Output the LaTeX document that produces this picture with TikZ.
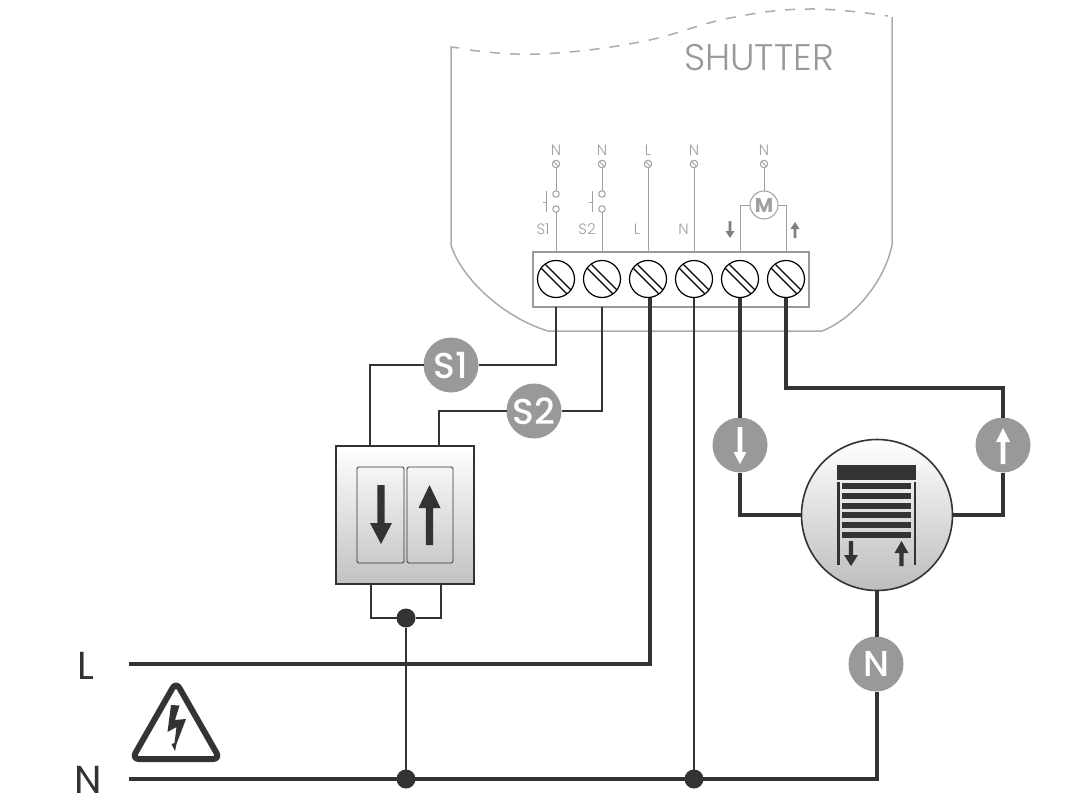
\documentclass[tikz,border=0pt]{standalone}
\usepackage{fontspec}
\setmainfont{Poppins}
\newfontfamily\lightf{Poppins Light}
\newfontfamily\medf{Poppins Medium}
\usetikzlibrary{backgrounds,calc}
\definecolor{dk}{HTML}{333333}
\definecolor{badge}{HTML}{999999}
\definecolor{outl}{HTML}{ABABAB}
\definecolor{lbl}{HTML}{A0A0A0}
\newcommand{\blockarr}[7][dk]{\fill[#1] (#2-#6,#3) -- (#2+#6,#3) -- (#2+#6,#4) -- (#2+#7,#4) -- (#2,#5) -- (#2-#7,#4) -- (#2-#6,#4) -- cycle;}
\tikzset{
  x=1pt,y=-1pt,
  thinw/.style={draw=dk,line width=2pt,line join=miter},
  thickw/.style={draw=dk,line width=4.5pt,line join=miter},
  greyw/.style={draw=lbl,line width=1pt},
  badge/.style={circle,fill=badge,minimum size=55pt,inner sep=0pt,outer sep=0pt,text=white,font=\medf\fontsize{36}{36}\selectfont},
  screw/.style={circle,draw=black,line width=1.2pt,minimum size=37pt,inner sep=0pt,outer sep=0pt,fill=white},
  tiny/.style={circle,draw=lbl,line width=1pt,minimum size=7.5pt,inner sep=0pt,outer sep=0pt},
  contact/.style={circle,draw=lbl,line width=1pt,minimum size=6.5pt,inner sep=0pt,outer sep=0pt},
  smalltxt/.style={text=lbl,inner sep=0pt,font=\lightf\fontsize{15}{15}\selectfont},
  bigtxt/.style={text=dk,inner sep=0pt,font=\fontsize{39}{39}\selectfont},
  rocker/.style={draw=dk,line width=0.9pt,rounded corners=1.5pt,inner sep=0pt,outer sep=0pt,minimum width=47pt,minimum height=96pt},
  junction/.style={circle,fill=dk,minimum size=19pt,inner sep=0pt,outer sep=0pt},
}
\begin{document}
\begin{tikzpicture}
\useasboundingbox (0,0) rectangle (1081,811);
\begin{scope}[on background layer]
\fill[white] (0,0) rectangle (1081,811);
\end{scope}
% module outline
\draw[outl,line width=1.5pt] (459,48) -- (451,47) -- (451,245) .. controls (462,280) and (505,318) .. (548,331) -- (822,331) .. controls (855,318) and (885,280) .. (892,245) -- (892,17);
\draw[outl,line width=1.5pt,dash pattern=on 10pt off 10pt] plot[smooth,tension=0.7] coordinates {(470,50) (540,54) (640,42) (730,18) (810,9) (888,16)};
\node[text=badge,inner sep=0pt,font=\lightf\fontsize{37}{37}\selectfont] (title) at (759,57.5) {SHUTTER};
% terminal block
\node[draw=badge,line width=1.2pt,fill=white,minimum width=276pt,minimum height=55pt,inner sep=0pt,outer sep=0pt] (block) at (671,279.5) {};
\foreach \n/\x in {1/556,2/602,3/648,4/694,5/740,6/786}{
  \node[screw] (s\n) at (\x,279) {};
  \draw[black,line width=1.1pt] ($(s\n)+(-14.5,-10.5)$) -- ($(s\n)+(10.5,14.5)$);
  \draw[black,line width=1.1pt] ($(s\n)+(-10.5,-14.5)$) -- ($(s\n)+(14.5,10.5)$);
}
% upper terminals
\foreach \n/\x/\t in {1/556/N,2/602/N,3/648/L,4/694/N,5/764/N}{
  \node[tiny] (t\n) at (\x,164) {};
  \draw[lbl,line width=0.9pt] (t\n.135) -- (t\n.-45);
  \node[smalltxt] (tl\n) at (\x,150) {\t};
}
\node[contact] (ca1) at (556,194) {};
\node[contact] (cb1) at (556,209) {};
\node[contact] (ca2) at (602,194) {};
\node[contact] (cb2) at (602,209) {};
\draw[greyw] (t1) -- (ca1) (cb1) -- (s1 |- block.north);
\draw[greyw] (t2) -- (ca2) (cb2) -- (s2 |- block.north);
\draw[greyw] (t3) -- (s3 |- block.north);
\draw[greyw] (t4) -- (s4 |- block.north);
\coordinate (p1) at ($(ca1)+(-9.5,3)$);
\coordinate (p2) at ($(ca2)+(-9.5,3)$);
\draw[greyw] ($(p1)+(0,-6)$) -- ($(p1)+(0,15)$) ($(p1)+(-4,5)$) -- ($(p1)+(0,5)$);
\draw[greyw] ($(p2)+(0,-6)$) -- ($(p2)+(0,15)$) ($(p2)+(-4,5)$) -- ($(p2)+(0,5)$);
\node[smalltxt] (l1) at (543,229.5) {S1};
\node[smalltxt] (l2) at (587,229.5) {S2};
\node[smalltxt] (l3) at (637,229.5) {L};
\node[smalltxt] (l4) at (683.5,229.5) {N};
\node[circle,draw=lbl,line width=1pt,minimum size=28pt,inner sep=0pt,outer sep=0pt,text=lbl,font=\bfseries\fontsize{20}{20}\selectfont] (mot) at (764,205) {M};
\draw[greyw] (t5) -- (mot.north);
\draw[greyw] (mot.west) -| (s5 |- block.north);
\draw[greyw] (mot.east) -| (s6 |- block.north);
\blockarr[gray]{730}{221}{231}{238}{1.3}{4.5}
\blockarr[gray]{795}{238}{229}{222}{1.3}{4.5}
% badges
\node[badge] (bs1) at (451,365) {S1};
\node[badge] (bs2) at (534,411) {S2};
\node[badge] (bd) at (740,445) {};
\node[badge] (bu) at (1003,445) {};
\node[badge] (bn) at (876,664) {N};
\blockarr[white]{740}{427}{452}{464}{2.4}{6.5}
\blockarr[white]{1003}{464}{442}{428}{2.4}{7}
% wall switch
\node[draw=dk,line width=2pt,top color=white,bottom color=black!24,minimum width=138pt,minimum height=138pt,inner sep=0pt,outer sep=0pt] (sw) at (405,515) {};
\node[rocker] (rl) at (380.5,515) {};
\node[rocker,minimum width=46pt] (rr) at (430,515) {};
\blockarr{381}{485}{523}{544}{3.7}{11}
\blockarr{429.5}{545}{508}{485}{3.7}{11}
% motor
\node[circle,draw=dk,line width=1.6pt,top color=white,bottom color=black!26,minimum size=151pt,inner sep=0pt,outer sep=0pt] (motor) at (877,515) {};
\fill[dk] (837,465) rectangle (916,480);
\fill[dk] (837,482) rectangle (840,565);
\fill[dk] (913.5,482) rectangle (916,565);
\foreach \y in {486,496,506,515,525,535}{\fill[dk] (842,\y-3) rectangle (911,\y+3);}
\blockarr{851}{541}{555}{566}{2.2}{7}
\blockarr{901.5}{566}{553}{541}{2.2}{7}
% junctions
\node[junction] (j1) at (406,618) {};
\node[junction] (j2) at (406,779) {};
\node[junction] (j3) at (694,779) {};
% mains labels
\coordinate (Lstart) at (129,664);
\coordinate (Nstart) at (129,779);
\coordinate (bend) at (786,388);
\node[bigtxt] (mL) at (85.5,666) {L};
\node[bigtxt] (mN) at (88,780) {N};
% warning
\draw[dk,line width=6pt,line join=round,rounded corners=7pt] (176,682) -- (220,759) -- (132,759) -- cycle;
\fill[dk] (171,705) -- (179.5,705.5) -- (175,720) -- (186,719) -- (176.5,744) -- (175,751) -- (171.5,744) -- (174.5,743) -- (176.5,727) -- (167.5,732) -- cycle;
% wires
\draw[thinw] (s1 |- block.south) |- (bs1.east);
\draw[thinw] (bs1.west) -| (sw.north -| 370,0);
\draw[thinw] (s2 |- block.south) |- (bs2.east);
\draw[thinw] (bs2.west) -| (sw.north -| 439,0);
\draw[thinw] (sw.south -| 371,0) |- (j1.west);
\draw[thinw] (sw.south -| 441,0) |- (j1.east);
\draw[thinw] (j1) -- (j2);
\draw[thinw] (s4.south) -- (j3);
\draw[thickw] (Lstart) -- (650,664) -- (650,297.5);
\draw[thickw] (Nstart) -- (877,779) -- (bn.south -| 877,0);
\draw[thickw] (bn.north -| 877,0) -- (motor.south);
\draw[thickw] (s5.south) -- (bd.north);
\draw[thickw] (bd.south) |- (motor.west);
\draw[thickw] (s6.south) |- (bend) -| (bu.north);
\draw[thickw] (bu.south) |- (motor.east);
\end{tikzpicture}
\end{document}
